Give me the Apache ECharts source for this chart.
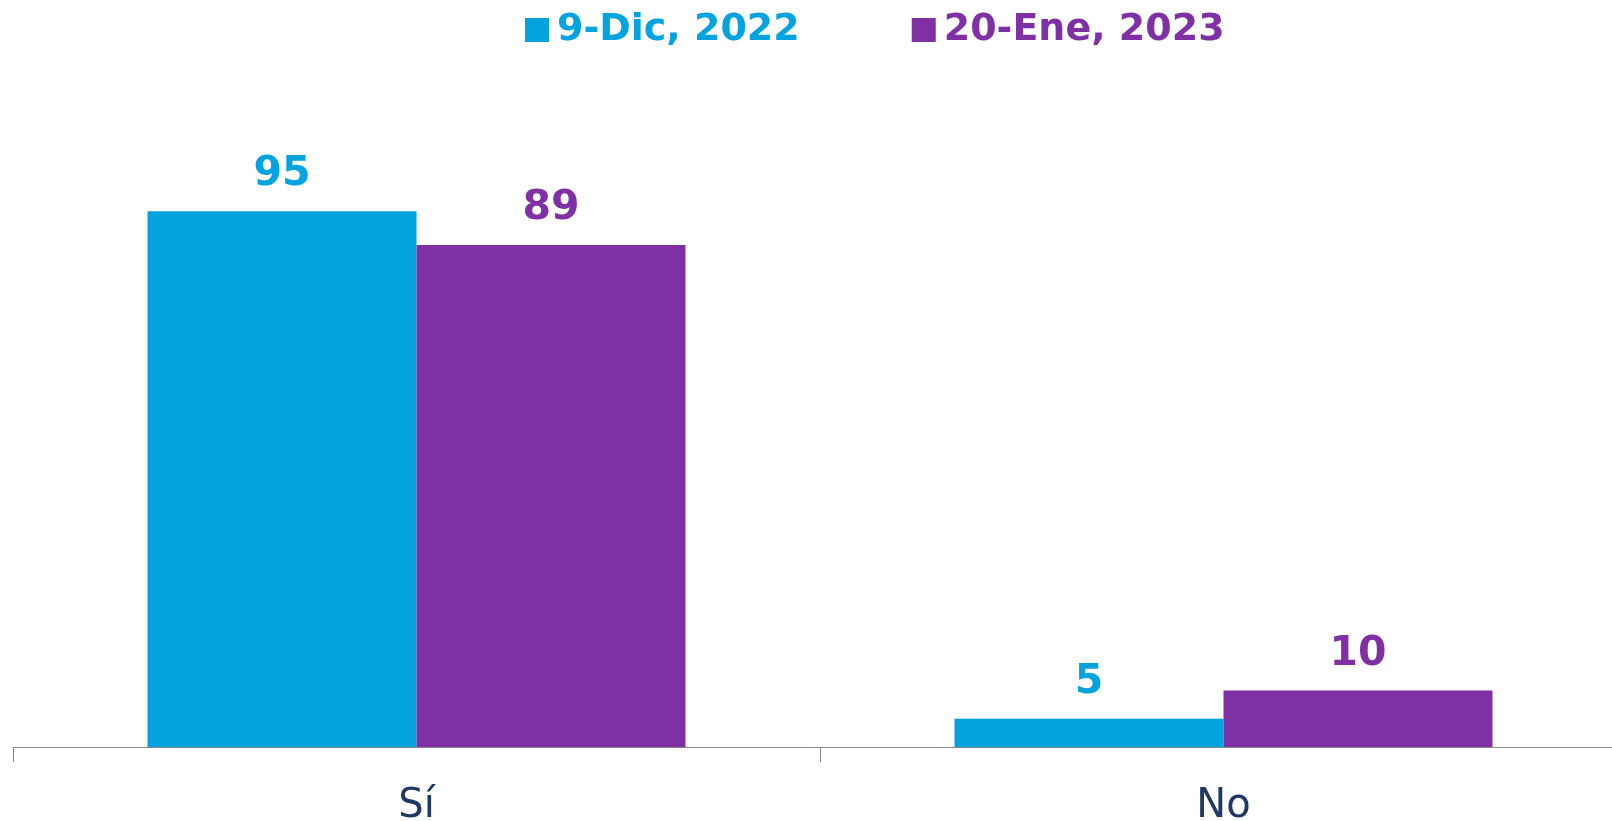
<!DOCTYPE html>
<html>
<head>
<meta charset="utf-8">
<script src="https://cdn.jsdelivr.net/npm/echarts@6/dist/echarts.min.js"></script>
<style>
  html, body { margin: 0; padding: 0; background: #fff; }
  #chart { width: 1612px; height: 821px; }
</style>
</head>
<body>
<div id="chart"></div>
<script>
// datos
var categories = ['Sí', 'No'];
var seriesNames = ['9-Dic, 2022', '20-Ene, 2023'];
var dic2022 = [95, 5];
var ene2023 = [89, 10];
var colors = ['#03a3e0', '#7f30a5'];

var chart = echarts.init(document.getElementById('chart'));

// etiqueta de valor sobre cada barra
function barLabel(color) {
  return {
    show: true,
    position: 'top',
    distance: 16,
    color: color,
    fontFamily: 'DejaVu Sans',
    fontWeight: 'bold',
    fontSize: 41
  };
}

chart.setOption({
  animation: false,
  color: colors,
  legend: {
    left: 520,
    top: 6,
    icon: 'rect',
    itemWidth: 24,
    itemHeight: 24,
    itemGap: 112,
    textStyle: { fontFamily: 'DejaVu Sans', fontWeight: 'bold', fontSize: 38, padding: [0, 0, 0, 3] },
    data: [
      { name: seriesNames[0], textStyle: { color: colors[0] } },
      { name: seriesNames[1], textStyle: { color: colors[1] } }
    ]
  },
  grid: { left: 13, right: -15, top: 183, bottom: 74, outerBoundsMode: 'none', containLabel: false },
  xAxis: {
    type: 'category',
    data: categories,
    axisLine: { lineStyle: { color: '#898989', width: 1 } },
    axisTick: { show: true, length: 15, lineStyle: { color: '#898989' } },
    axisLabel: { color: '#1f3864', fontFamily: 'DejaVu Sans', fontSize: 40, margin: 40 }
  },
  yAxis: {
    type: 'value',
    min: 0,
    max: 100,
    show: false,
    splitLine: { show: false }
  },
  series: [
    { name: seriesNames[0], type: 'bar', data: dic2022, barWidth: 269, barGap: '0%', label: barLabel(colors[0]) },
    { name: seriesNames[1], type: 'bar', data: ene2023, barWidth: 269, barGap: '0%', label: barLabel(colors[1]) }
  ]
});
</script>
</body>
</html>
